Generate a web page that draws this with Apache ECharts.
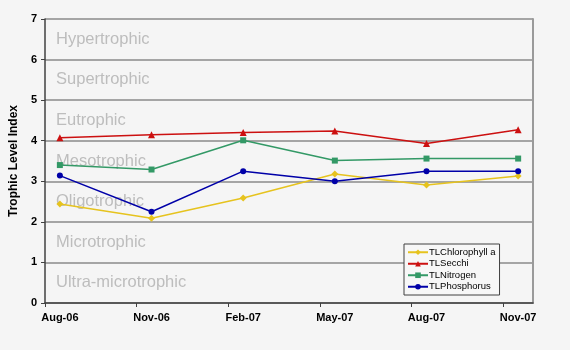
<!DOCTYPE html>
<html>
<head>
<meta charset="utf-8">
<script src="https://cdn.jsdelivr.net/npm/echarts@6/dist/echarts.min.js"></script>
<style>
html,body{margin:0;padding:0;background:#f5f5f5;}
#chart{width:570px;height:350px;}
</style>
</head>
<body>
<div id="chart"></div>
<script>
const categories = ['Aug-06','Nov-06','Feb-07','May-07','Aug-07','Nov-07'];
const chlorophyll = [2.44, 2.09, 2.59, 3.18, 2.91, 3.13];
const secchi = [4.07, 4.15, 4.20, 4.24, 3.93, 4.27];
const nitrogen = [3.40, 3.29, 4.01, 3.51, 3.56, 3.56];
const phosphorus = [3.14, 2.25, 3.25, 3.00, 3.25, 3.25];
const zones = ['Ultra-microtrophic','Microtrophic','Oligotrophic','Mesotrophic','Eutrophic','Supertrophic','Hypertrophic'];
const yTicks = [0,1,2,3,4,5,6,7];

const pad = 0.162;
const xMin = -pad, xMax = categories.length-1+pad;
const toPts = arr => arr.map((v,i)=>[i,v]);

const chart = echarts.init(document.getElementById('chart'), null, {renderer:'canvas'});
const font = 'Arial, "Liberation Sans", sans-serif';

const option = {
  backgroundColor:'#f5f5f5',
  animation:false,
  grid:{left:41, right:37, top:19, bottom:47, show:false},
  xAxis:{
    type:'value', min:xMin, max:xMax,
    axisLine:{show:true, onZero:false, lineStyle:{color:'#404040', width:1.5}},
    axisTick:{show:true, length:4, inside:false, lineStyle:{color:'#404040'},
      customValues: categories.map((c,i)=>i-pad)},
    axisLabel:{customValues: categories.map((c,i)=>i), formatter:v=>categories[Math.round(v)],
      fontFamily:font, fontWeight:'bold', fontSize:11, color:'#000', margin:9},
    splitLine:{show:false}
  },
  yAxis:[{
    type:'value', min:0, max:7, interval:1,
    name:'Trophic Level Index', nameLocation:'middle', nameGap:24,
    nameTextStyle:{fontFamily:font, fontWeight:'bold', fontSize:12, color:'#000'},
    axisLine:{show:true, onZero:false, lineStyle:{color:'#404040', width:1.5}},
    axisTick:{show:true, length:4, lineStyle:{color:'#404040'}},
    axisLabel:{fontFamily:font, fontWeight:'bold', fontSize:11, color:'#000', margin:8,
      formatter:v=>yTicks.includes(v)?String(v):''},
    splitLine:{show:true, lineStyle:{color:'#8a8a8a', width:1.5}}
  },{
    type:'value', min:0, max:7, position:'right',
    axisLine:{show:true, onZero:false, lineStyle:{color:'#9a9a9a', width:2}},
    axisTick:{show:false}, axisLabel:{show:false}, splitLine:{show:false}
  }],
  legend:{
    orient:'vertical', left:404, top:244,
    backgroundColor:'#f7f7f7', borderColor:'#404040', borderWidth:1,
    padding:[3,4,3,3], itemGap:1, itemWidth:20, itemHeight:7,
    textStyle:{fontFamily:font, fontSize:9.5, color:'#000', padding:[0,0,0,-4], lineHeight:10.5},
    data:['TLChlorophyll a','TLSecchi','TLNitrogen','TLPhosphorus']
  },
  series:[
    {name:'TLChlorophyll a', type:'line', data:toPts(chlorophyll), symbol:'diamond', symbolSize:7,
      color:'#e6c31e', lineStyle:{width:1.5},
      markArea:{silent:true, itemStyle:{color:'rgba(0,0,0,0)'},
        label:{position:'insideLeft', distance:11, color:'#bdbdbd', fontFamily:font, fontSize:16.5},
        data: zones.map((z,i)=>[{xAxis:xMin, yAxis:i, name:z},{xAxis:xMax, yAxis:i+1}])}},
    {name:'TLSecchi', type:'line', data:toPts(secchi), symbol:'triangle', symbolSize:7,
      color:'#cc1010', lineStyle:{width:1.5}},
    {name:'TLNitrogen', type:'line', data:toPts(nitrogen), symbol:'rect', symbolSize:6,
      color:'#339966', lineStyle:{width:1.5}},
    {name:'TLPhosphorus', type:'line', data:toPts(phosphorus), symbol:'circle', symbolSize:6,
      color:'#0000a8', lineStyle:{width:1.5}}
  ]
};
chart.setOption(option);
</script>
</body>
</html>
